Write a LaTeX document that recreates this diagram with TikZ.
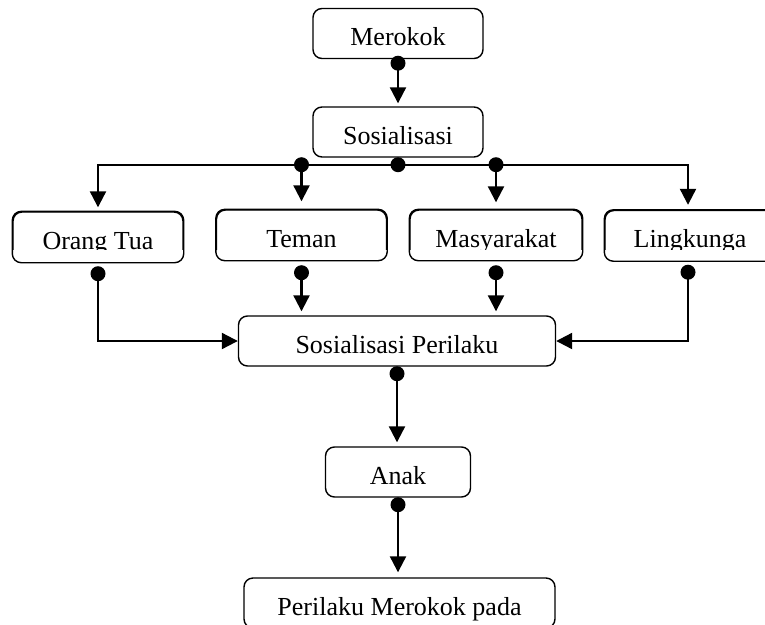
\documentclass[tikz,border=0pt]{standalone}
\usepackage{fontspec}
\setmainfont{Liberation Serif}
\usetikzlibrary{arrows.meta}
\begin{document}
\begin{tikzpicture}[x=1pt,y=-1pt,
  box/.style={draw, line width=1.4pt, rounded corners=9pt, minimum width=170pt,
    minimum height=50pt, inner sep=0pt, text height=24pt, text depth=0pt,
    font=\fontsize{26pt}{30pt}\selectfont},
  boxline/.style={draw, line width=1.4pt, rounded corners=9pt},
  conn/.style={line width=2.2pt, -{Triangle[length=16pt,width=16pt]}},
  plain/.style={line width=2.2pt},
  dotc/.style={fill=black}]
\useasboundingbox (0,0) rectangle (765,624);

\node[box] (merokok) at (398,33.5) {Merokok};
\node[box] (sosial) at (398,132) {Sosialisasi};
\begin{scope}
  \clip (0,190) rectangle (765,249);
  \node[box] (orang) at (98,237) {Orang Tua};
  \node[box] (teman) at (301.5,235) {Teman};
  \node[box, minimum width=172pt] (masy) at (496,235) {Masyarakat};
  \node[box] (ling) at (690,235.5) {Lingkunga};
\end{scope}
\draw[boxline] (orang.south west) rectangle (orang.north east);
\draw[boxline] (teman.south west) rectangle (teman.north east);
\draw[boxline] (masy.south west) rectangle (masy.north east);
\draw[boxline] (ling.south west) rectangle (ling.north east);
\node[box, minimum width=317pt] (sp) at (397,341) {Sosialisasi Perilaku};
\node[box, minimum width=145pt] (anak) at (398,472) {Anak};
\node[box, minimum width=311pt] (pmp) at (399.5,603) {Perilaku Merokok pada};

% Merokok -> Sosialisasi
\draw[conn, shorten >=3pt] (merokok.south) -- (sosial.north);
\fill[dotc] (merokok.south) ++(0,4) circle[radius=7.5pt];

% Sosialisasi -> four boxes
\draw[plain] (sosial.south) -- ++(0,7) coordinate (hub);
\draw[conn, shorten >=4pt] (hub) -| (orang.north);
\draw[conn, shorten >=8pt] (hub) -| (teman.north);
\draw[conn, shorten >=7pt] (hub) -| (masy.north);
\draw[conn, shorten >=5pt] (hub) -| ([xshift=-2pt]ling.north);
\fill[dotc] (hub) circle[radius=7.5pt];
\fill[dotc] (teman.north |- hub) circle[radius=7.5pt];
\fill[dotc] (masy.north |- hub) circle[radius=7.5pt];

% four boxes -> Sosialisasi Perilaku
\draw[conn, shorten <=11pt] (orang.south) |- (sp.west);
\draw[conn, shorten <=11pt, shorten >=4pt] (teman.south) -- (teman.south |- sp.north);
\draw[conn, shorten <=11pt, shorten >=4pt] (masy.south) -- (masy.south |- sp.north);
\draw[conn, shorten <=11pt] ([xshift=-2pt]ling.south) |- (sp.east);
\fill[dotc] (orang.south) ++(0,11) circle[radius=7.5pt];
\fill[dotc] (teman.south) ++(0,12) circle[radius=7.5pt];
\fill[dotc] (masy.south) ++(0,12) circle[radius=7.5pt];
\fill[dotc] ([xshift=-2pt]ling.south) ++(0,11) circle[radius=7.5pt];

% Sosialisasi Perilaku -> Anak -> Perilaku Merokok pada
\draw[conn, shorten >=4pt] (sp.south) -- (sp.south |- anak.north);
\fill[dotc] (sp.south) ++(0,7) circle[radius=7.5pt];
\draw[conn, shorten >=5pt] (anak.south) -- (anak.south |- pmp.north);
\fill[dotc] (anak.south) ++(0,7) circle[radius=7.5pt];
\end{tikzpicture}
\end{document}
